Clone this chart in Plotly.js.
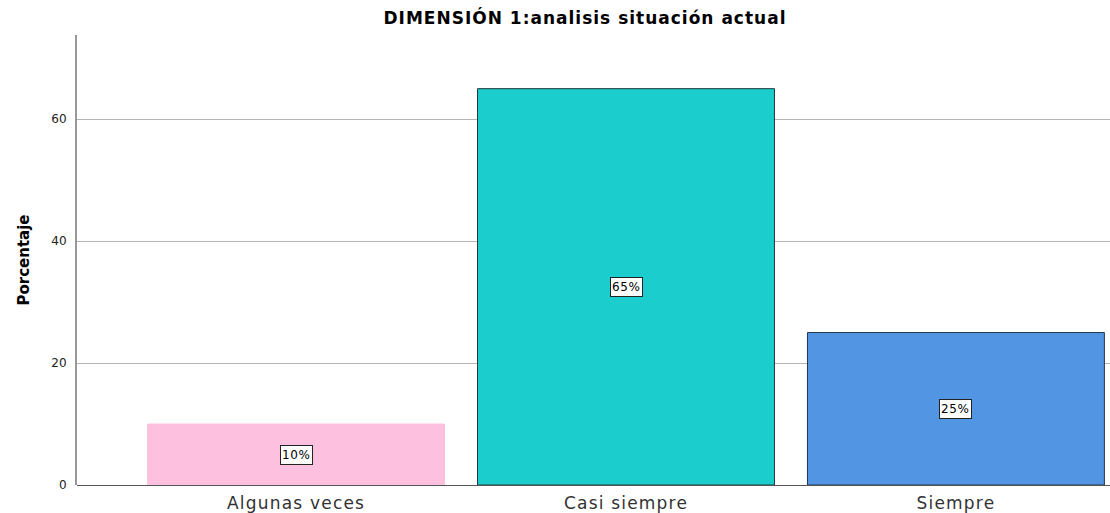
<!DOCTYPE html>
<html>
<head>
<meta charset="utf-8">
<script src="https://cdn.plot.ly/plotly-3.0.1.min.js"></script>
<style>
html,body{margin:0;padding:0;background:#fff;}
#chart{width:1110px;height:513px;}
#chart .gtitle{letter-spacing:1px;}
#chart .xtick text{letter-spacing:1.2px;}
#chart .annotation-text{letter-spacing:0.6px;}
</style>
</head>
<body>
<div id="chart"></div>
<script>
const categories = ["Algunas veces", "Casi siempre", "Siempre"];
const percentages = [10, 65, 25];
const valueLabels = ["10%", "65%", "25%"];
const barColors = ["#fdc1df", "#1ccdcd", "#5295e2"];
const barLines = ["#fdc1df", "#1f3a3a", "#23344a"];
const yTicks = [0, 20, 40, 60];

const FONT = "DejaVu Sans, Verdana, sans-serif";

const trace = {
  type: "bar",
  x: categories,
  y: percentages,
  width: 0.9,
  marker: {color: barColors, line: {color: barLines, width: 1}},
  hoverinfo: "skip"
};

const annotations = categories.map((c, i) => ({
  x: c, y: percentages[i] / 2, xref: "x", yref: "y",
  text: valueLabels[i], showarrow: false,
  font: {family: FONT, size: 12, color: "#000"},
  bgcolor: "#fff", bordercolor: "#222", borderwidth: 1, borderpad: 2
}));

const layout = {
  width: 1110, height: 513,
  margin: {l: 77, r: 0, t: 35, b: 28},
  paper_bgcolor: "#fff", plot_bgcolor: "#fff",
  showlegend: false,
  title: {
    text: "<b>DIMENSIÓN 1:analisis situación actual</b>",
    font: {family: FONT, size: 17, color: "#000"},
    x: 0.527, xanchor: "center", y: 0.965, yanchor: "middle", xref: "container", yref: "container"
  },
  xaxis: {
    type: "category",
    range: [-0.664, 2.467],
    showgrid: false, zeroline: false,
    showline: false,
    ticks: "", ticklabelstandoff: 6,
    tickfont: {family: FONT, size: 17, color: "#333"},
    fixedrange: true
  },
  yaxis: {
    range: [0, 73.8],
    tickvals: yTicks,
    ticktext: yTicks.map(String),
    showgrid: true, gridcolor: "#b4b4b4", gridwidth: 1,
    zeroline: true, zerolinecolor: "#555", zerolinewidth: 1,
    showline: true, linecolor: "#999", linewidth: 2,
    ticks: "", ticklabelstandoff: 6,
    tickfont: {family: FONT, size: 12, color: "#222"},
    title: {text: "<b>Porcentaje</b>", font: {family: FONT, size: 15, color: "#000"}, standoff: 18},
    fixedrange: true
  },
  annotations: annotations
};

Plotly.newPlot("chart", [trace], layout, {displayModeBar: false, staticPlot: true});
</script>
</body>
</html>
